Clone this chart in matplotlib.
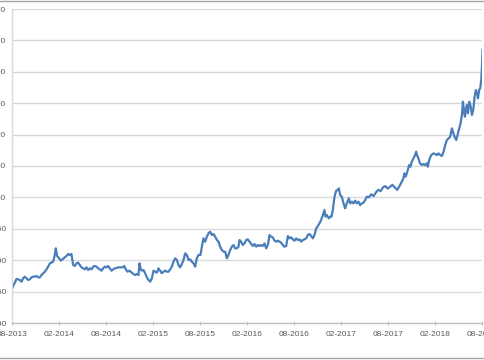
import matplotlib
matplotlib.use("Agg")
import matplotlib.pyplot as plt
from matplotlib.lines import Line2D

# months elapsed since Aug 2013
months = [
    0, 0.51, 0.72, 0.94, 1.15, 1.36, 1.57, 1.79, 2.0, 2.21, 2.43, 2.64, 2.85, 3.06, 3.28, 3.49,
    3.70, 3.91, 4.13, 4.34, 4.55, 4.77, 4.98, 5.19, 5.40, 5.53, 5.70, 5.96, 6.17, 6.38, 6.68, 6.89,
    7.11, 7.32, 7.53, 7.74, 7.96, 8.17, 8.38, 8.60, 8.81, 9.02, 9.23, 9.45, 9.66, 9.87, 10.09, 10.30,
    10.51, 10.72, 10.94, 11.15, 11.36, 11.57, 11.79, 12.0, 12.21, 12.43, 12.64, 12.85, 13.06, 13.28, 13.49,
    13.74, 14.09, 14.26, 14.51, 14.68, 14.94, 15.23, 15.45, 15.66, 15.87, 16.09, 16.21, 16.38, 16.51,
    16.72, 16.94, 17.15, 17.36, 17.57, 17.79, 18.0, 18.21, 18.43, 18.64, 18.85, 19.06, 19.28, 19.49,
    19.70, 19.91, 20.13, 20.34, 20.55, 20.77, 20.98, 21.19, 21.40, 21.62, 21.83, 22.04, 22.26, 22.47,
    22.68, 22.89, 23.11, 23.32, 23.53, 23.74, 24.0, 24.17, 24.38, 24.60, 24.81, 25.02, 25.23, 25.45,
    25.66, 25.87, 26.09, 26.30, 26.51, 26.72, 26.94, 27.15, 27.36, 27.57, 27.79, 28.0, 28.21, 28.43,
    28.64, 28.85,
    28.98, 29.19, 29.40, 29.62, 29.83, 30.04, 30.26, 30.47, 30.68, 30.89, 31.11, 31.32, 31.53, 31.74,
    31.96, 32.17, 32.38, 32.60, 32.81, 33.02, 33.23, 33.45, 33.66, 33.87, 34.09, 34.30, 34.51, 34.72,
    34.94, 35.15, 35.36, 35.57, 35.79, 36.0, 36.21, 36.43, 36.64, 36.85, 37.06, 37.28, 37.49, 37.70,
    37.91, 38.13, 38.34, 38.55, 38.77, 38.98, 39.19, 39.40, 39.62, 39.83, 39.96, 40.13, 40.38, 40.55,
    40.72, 40.89, 41.11, 41.32, 41.53, 41.66, 41.83, 42.04, 42.26, 42.47, 42.68, 42.94, 43.11, 43.32,
    43.53, 43.74, 43.96, 44.17, 44.38, 44.60, 44.81, 45.02, 45.23, 45.49,
    45.8, 46.1, 46.4, 46.7, 47.0, 47.3, 47.6, 47.9, 48.2, 48.5, 48.8, 49.1, 49.4, 49.7,
    49.90, 50.03, 50.20, 50.46, 50.63, 50.80, 50.97, 51.18, 51.40, 51.53, 51.65, 51.82, 52.03, 52.25,
    52.46, 52.67, 52.89, 53.02, 53.19, 53.45, 53.75, 53.96, 54.17, 54.39, 54.60, 54.81, 55.03, 55.24,
    55.45, 55.67, 55.88, 56.09, 56.26, 56.43, 56.65, 56.86, 57.03, 57.20, 57.37, 57.50, 57.63, 57.76,
    57.88, 58.01, 58.14, 58.31, 58.48, 58.65, 58.82, 58.99, 59.16, 59.29, 59.42, 59.59, 59.71, 59.84,
    59.93, 60.0,
]

values = [
    156.3, 170.1, 169.5, 168.5, 165.8, 171.1, 173.8, 171.1, 168.5, 169.5, 172.7, 173.8, 173.8, 174.8, 172.7, 172.7,
    176.4, 179.1, 181.7, 185.4, 189.7, 195.0, 196.1, 197.7, 208.3, 218.9, 206.7, 203.0, 199.3, 201.4, 204.6, 206.7,
    209.9, 208.3, 209.9, 192.4, 190.8, 195.0, 196.1, 192.4, 188.6, 187.0, 185.4, 188.6, 184.4, 187.0, 185.4, 189.7,
    190.8, 189.7, 187.0, 185.4, 183.3, 187.0, 189.7, 188.6, 190.8, 187.0, 183.3, 185.4, 187.0, 187.5, 188.6,
    188.6, 188.6, 190.8, 184.4, 181.7, 183.3, 180.1, 178.0, 176.4, 178.0, 176.4, 195.0, 185.4, 183.3,
    184.4, 179.1, 172.7, 168.5, 165.8, 171.1, 183.3, 181.7, 180.1, 187.0, 183.3, 179.1, 181.7, 183.3,
    181.7, 181.7, 185.4, 189.7, 197.7, 203.0, 200.3, 192.4, 188.6, 193.9, 200.3, 210.9, 208.3, 200.3,
    201.4, 197.7, 195.0, 189.7, 203.0, 208.3, 208.3, 221.5, 234.8, 229.5, 237.5, 242.8, 245.4, 240.1,
    241.7, 237.5, 232.2, 229.5, 221.5, 216.2, 213.6, 213.6, 203.0, 208.3, 216.2, 221.5, 224.2, 218.9,
    218.9, 221.5,
    232.1, 229.5, 224.2, 226.8, 232.1, 233.2, 229.5, 225.7, 222.6, 225.7, 221.5, 224.2, 222.6, 224.2,
    222.6, 226.8, 218.9, 224.2, 240.1, 237.4, 236.4, 231.1, 229.5, 231.1, 229.5, 227.9, 224.2, 221.5,
    222.6, 238.5, 234.8, 236.4, 233.2, 231.1, 234.8, 232.1, 233.2, 229.5, 232.1, 233.2, 234.8, 240.1,
    241.7, 238.5, 234.8, 240.1, 250.7, 254.4, 258.6, 264.0, 271.9, 279.9, 269.3, 271.9, 266.6, 269.3,
    269.3, 279.9, 301.1, 310.7, 311.7, 314.4, 303.8, 301.1, 290.5, 282.5, 290.5, 298.5, 290.5, 293.2,
    290.5, 294.8, 290.5, 293.2, 287.8, 290.5, 291.6, 295.8, 301.1, 300.1,
    305.0, 302.0, 308.0, 312.0, 310.0, 316.0, 318.0, 314.0, 317.0, 320.0, 316.0, 312.0, 318.0, 325.0,
    330.3, 338.3, 333.0, 343.6, 351.5, 348.9, 356.8, 362.1, 367.4, 372.8, 367.4, 362.1, 354.2, 351.5,
    353.1, 351.5, 354.2, 348.9, 359.5, 367.4, 370.1, 369.0, 367.4, 370.1, 367.4, 365.9, 372.8, 383.4,
    391.3, 394.0, 396.6, 409.9, 403.0, 396.6, 391.3, 401.9, 409.9, 417.9, 431.2, 452.4, 436.5, 428.5,
    441.8, 447.1, 433.8, 452.4, 445.5, 431.2, 439.1, 460.3, 471.0, 465.6, 457.7, 472.0, 473.6, 486.9,
    508.1, 534.7,
]

tick_months = [0, 6, 12, 18, 24, 30, 36, 42, 48, 54, 60]
tick_labels = ["08-2013", "02-2014", "08-2014", "02-2015", "08-2015", "02-2016",
               "08-2016", "02-2017", "08-2017", "02-2018", "08-2018"]
y_ticks = [100, 150, 200, 250, 300, 350, 400, 450, 500, 550, 600]

W, H = 485, 360
fig = plt.figure(figsize=(W / 100, H / 100), dpi=100)
ax = fig.add_axes([12.5 / W, 1 - 323 / H, (482.5 - 12.5) / W, (323 - 9) / H])

ax.plot(months, values, color="#4A7EBB", linewidth=1.6, solid_joinstyle="round")

ax.set_xlim(0, 60)
ax.set_ylim(100, 600)
ax.set_xticks(tick_months)
ax.set_xticklabels(tick_labels)
ax.set_yticks(y_ticks)
ax.set_yticklabels([str(v) for v in y_ticks])

ax.grid(axis="y", color="#D9D9D9", linewidth=1.0)
ax.set_axisbelow(True)
for s in ["top", "right"]:
    ax.spines[s].set_visible(False)
ax.spines["left"].set_color("#D9D9D9")
ax.spines["bottom"].set_color("#BFBFBF")
ax.spines["left"].set_linewidth(1.0)
ax.spines["bottom"].set_linewidth(1.0)

ax.tick_params(axis="x", direction="inout", length=3, width=0.8, color="#BFBFBF",
               labelsize=6, labelcolor="#595959", pad=4)
ax.tick_params(axis="y", length=0, labelsize=6, labelcolor="#595959", pad=4.5)
for lab in ax.get_xticklabels() + ax.get_yticklabels():
    lab.set_fontfamily("Liberation Sans")

# chart-area border lines (top and bottom visible in the crop)
fig.add_artist(Line2D([0, 1], [1 - 0.8 / H, 1 - 0.8 / H], transform=fig.transFigure,
                      color="#A6A6A6", linewidth=1.0))
fig.add_artist(Line2D([0, 1], [1 - 357.5 / H, 1 - 357.5 / H], transform=fig.transFigure,
                      color="#A6A6A6", linewidth=1.0))

fig.savefig("out.png", dpi=100)
